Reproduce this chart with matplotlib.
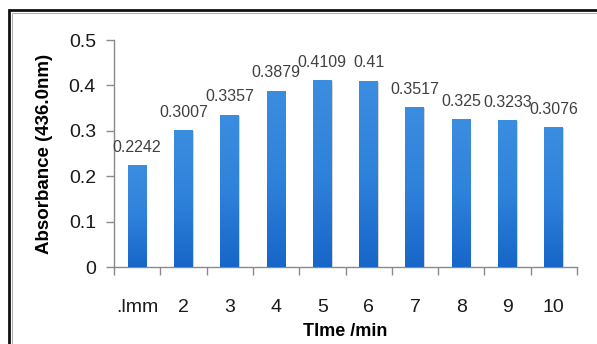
import numpy as np
import matplotlib.pyplot as plt
from matplotlib.patches import Rectangle
from matplotlib.colors import LinearSegmentedColormap

plt.rcParams['font.family'] = ['Liberation Sans', 'DejaVu Sans']

# absorbance readings over time
time_labels = ['.lmm', '2', '3', '4', '5', '6', '7', '8', '9', '10']
absorbance = [0.2242, 0.3007, 0.3357, 0.3879, 0.4109, 0.41, 0.3517, 0.325, 0.3233, 0.3076]
value_text = ['0.2242', '0.3007', '0.3357', '0.3879', '0.4109', '0.41', '0.3517', '0.325', '0.3233', '0.3076']
y_ticks = [0, 0.1, 0.2, 0.3, 0.4, 0.5]
y_tick_labels = ['0', '0.1', '0.2', '0.3', '0.4', '0.5']

fig = plt.figure(figsize=(5.97, 3.44), dpi=100)
ax = fig.add_axes([114 / 597, 1 - 267 / 344, 463 / 597, 227 / 344])

x = np.arange(len(absorbance))
bar_w = 0.41
blue = LinearSegmentedColormap.from_list('blue', ['#1766c9', '#2f82da', '#3b8de0'])

bars = ax.bar(x, absorbance, width=bar_w, color='none', edgecolor='none', zorder=3)
for b in bars:
    x0, w, h = b.get_x(), b.get_width(), b.get_height()
    # soft shadow on the right of each bar
    ax.add_patch(Rectangle((x0 + 0.015, 0), w, h - 0.002, facecolor='#d4d4d4',
                           edgecolor='none', zorder=2))
    grad = np.linspace(0, 1, 100).reshape(-1, 1)
    im = ax.imshow(grad, cmap=blue, aspect='auto', extent=(x0, x0 + w, 0, h),
                   origin='lower', zorder=3)
    im.set_clip_path(b)

for xi, v, t in zip(x, absorbance, value_text):
    ax.annotate(t, (xi, v), xytext=(0, 13), textcoords='offset points',
                ha='center', va='center', fontsize=11.5, color='#404040')

ax.set_xlim(-0.5, len(absorbance) - 0.5)
ax.set_ylim(0, 0.5)
ax.set_yticks(y_ticks)
ax.set_yticklabels(y_tick_labels, fontsize=14, color='#1a1a1a')
ax.set_xticks(x)
ax.set_xticklabels(time_labels, fontsize=14, color='#1a1a1a')
ax.set_xticks(np.arange(-0.5, len(absorbance)), minor=True)
ax.tick_params(axis='x', which='major', length=0, pad=23)
ax.tick_params(axis='x', which='minor', length=6, color='#8a8a8a', width=1)
ax.tick_params(axis='y', length=6, color='#8a8a8a', width=1, pad=7)

for s in ['top', 'right']:
    ax.spines[s].set_visible(False)
for s in ['left', 'bottom']:
    ax.spines[s].set_color('#8a8a8a')
    ax.spines[s].set_linewidth(1)

ax.set_xlabel('TIme /min', fontsize=13, fontweight='bold', labelpad=5)
ax.set_ylabel('Absorbance (436.0nm)', fontsize=13.5, fontweight='bold', labelpad=11)

# outer frame around the chart area
fig.add_artist(Rectangle((9 / 597, -0.1), 1.2, 1 - 10 / 344 + 0.1, transform=fig.transFigure,
                         fill=False, edgecolor='#111111', linewidth=2))
fig.add_artist(Rectangle((12 / 597, -0.1), 1.2, 1 - 13 / 344 + 0.1, transform=fig.transFigure,
                         fill=False, edgecolor='#b0b0b0', linewidth=0.8))

fig.savefig('out.png', dpi=100)
